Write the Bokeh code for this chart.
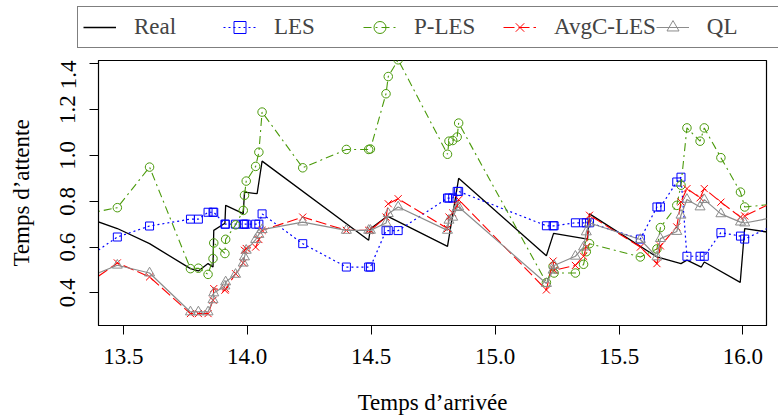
from bokeh.plotting import figure
from bokeh.layouts import column, row
from bokeh.models import Range1d, FixedTicker, Legend, LegendItem, PrintfTickFormatter
from bokeh.embed import file_html
from bokeh.resources import INLINE

# ---------------- data ----------------
arrival = [13.35, 13.476, 13.606, 13.771, 13.803, 13.842, 13.862, 13.865, 13.910, 13.913,
           13.953, 13.984, 13.989, 13.996, 14.034, 14.047, 14.060, 14.224, 14.400, 14.490,
           14.497, 14.560, 14.569, 14.609, 14.808, 14.814, 14.829, 14.847, 14.853, 15.207,
           15.234, 15.238, 15.324, 15.357, 15.368, 15.381, 15.586, 15.653, 15.667, 15.733,
           15.750, 15.774, 15.827, 15.844, 15.911, 15.990, 16.007, 16.15]

les = [0.55, 0.644, 0.692, 0.722, 0.722, 0.752, 0.752, 0.752, 0.700, 0.700,
       0.700, 0.700, 0.700, 0.700, 0.700, 0.700, 0.745, 0.615, 0.513, 0.513,
       0.513, 0.672, 0.672, 0.672, 0.814, 0.814, 0.814, 0.843, 0.843, 0.693,
       0.693, 0.693, 0.706, 0.706, 0.706, 0.706, 0.635, 0.775, 0.775, 0.884,
       0.905, 0.560, 0.560, 0.560, 0.663, 0.648, 0.635, 0.708]

ples = [0.745, 0.772, 0.949, 0.506, 0.508, 0.481, 0.550, 0.618, 0.572, 0.634,
        0.697, 0.760, 0.826, 0.888, 0.952, 1.014, 1.189, 0.946, 1.026, 1.026,
        1.028, 1.269, 1.344, 1.417, 1.005, 1.062, 1.065, 1.080, 1.141, 0.445,
        0.516, 0.487, 0.487, 0.525, 0.580, 0.615, 0.557, 0.592, 0.685, 0.782,
        0.870, 1.120, 1.062, 1.120, 0.990, 0.840, 0.775, 0.790]

avgc = [0.435, 0.531, 0.470, 0.310, 0.310, 0.310, 0.368, 0.419, 0.412, 0.418,
        0.484, 0.531, 0.586, 0.594, 0.600, 0.633, 0.673, 0.731, 0.673, 0.673,
        0.673, 0.731, 0.789, 0.811, 0.681, 0.731, 0.749, 0.780, 0.807, 0.413,
        0.539, 0.499, 0.520, 0.560, 0.600, 0.739, 0.600, 0.528, 0.605, 0.688,
        0.797, 0.855, 0.815, 0.855, 0.796, 0.731, 0.736, 0.810]

ql = [0.465, 0.521, 0.487, 0.317, 0.317, 0.317, 0.370, 0.400, 0.430, 0.448,
      0.481, 0.530, 0.557, 0.586, 0.633, 0.655, 0.676, 0.709, 0.673, 0.673,
      0.673, 0.705, 0.746, 0.775, 0.673, 0.717, 0.730, 0.772, 0.775, 0.441,
      0.499, 0.520, 0.560, 0.600, 0.666, 0.705, 0.633, 0.557, 0.637, 0.668,
      0.739, 0.808, 0.775, 0.807, 0.745, 0.709, 0.705, 0.735]

real_t = [13.35, 13.476, 13.606, 13.771, 13.803, 13.842, 13.862, 13.865, 13.910, 13.913,
          13.984, 13.989, 14.040, 14.060, 14.490, 14.497, 14.565, 14.808, 14.853, 15.207,
          15.236, 15.373, 15.381, 15.653, 15.750, 15.774, 15.832, 15.844, 15.989, 16.007, 16.15]
real_v = [0.729, 0.681, 0.615, 0.506, 0.496, 0.528, 0.513, 0.673, 0.704, 0.782,
          0.746, 0.840, 0.833, 0.975, 0.630, 0.680, 0.735, 0.603, 0.900, 0.562,
          0.660, 0.635, 0.745, 0.557, 0.528, 0.543, 0.513, 0.535, 0.446, 0.681, 0.657]

x_ticks = [13.5, 14.0, 14.5, 15.0, 15.5, 16.0]
y_ticks = [0.4, 0.6, 0.8, 1.0, 1.2, 1.4]
labels = ["Real", "LES", "P-LES", "AvgC-LES", "QL"]

FONT = "Liberation Serif"
FS = "23px"

BLUE = "#0000ff"
GREEN = "#4a9a0a"
RED = "#ff0000"
GRAY = "#8c8c8c"

STYLES = [
    dict(color="black", width=1.3, dash="solid", marker=None, size=0),
    dict(color=BLUE, width=1.2, dash="2 3", marker="square", size=8),
    dict(color=GREEN, width=1.1, dash="8 4 2 4", marker="circle", size=8.5),
    dict(color=RED, width=1.1, dash="11 4", marker="x", size=10),
    dict(color=GRAY, width=1.2, dash="solid", marker="triangle", size=10),
]


def draw(fig, xs, ys, st):
    rs = [fig.line(xs, ys, line_color=st["color"], line_width=st["width"],
                   line_dash=st["dash"])]
    if st["marker"]:
        rs.append(fig.scatter(xs, ys, marker=st["marker"], size=st["size"],
                              fill_color=None, line_color=st["color"], line_width=1))
    return rs


# ---------------- main plot ----------------
p = figure(width=778, height=358, output_backend="svg", toolbar_location=None,
           x_range=Range1d(13.4, 16.095), y_range=Range1d(0.258, 1.414),
           min_border_left=98, min_border_right=12, min_border_top=0, min_border_bottom=93)
p.background_fill_color = "white"
p.border_fill_color = "white"
p.outline_line_color = "black"
p.outline_line_width = 1.2
p.xgrid.visible = False
p.ygrid.visible = False

for ax in (p.xaxis[0], p.yaxis[0]):
    ax.major_label_text_font = FONT
    ax.major_label_text_font_size = FS
    ax.axis_label_text_font = FONT
    ax.axis_label_text_font_size = FS
    ax.axis_label_text_font_style = "normal"
    ax.minor_tick_line_color = None
    ax.major_tick_in = 0
    ax.major_tick_out = 9
    ax.major_tick_line_width = 1
    ax.axis_line_width = 1
    ax.major_label_text_color = "black"
    ax.axis_label_text_color = "black"
    ax.formatter = PrintfTickFormatter(format="%.1f")

p.xaxis[0].ticker = FixedTicker(ticks=x_ticks)
p.yaxis[0].ticker = FixedTicker(ticks=y_ticks)
p.xaxis[0].axis_label = "Temps d\u2019arrivée"
p.yaxis[0].axis_label = "Temps d\u2019attente"
p.xaxis[0].major_label_standoff = 14
p.xaxis[0].axis_label_standoff = 23
p.yaxis[0].major_label_orientation = "vertical"
p.yaxis[0].major_label_standoff = 14
p.yaxis[0].axis_label_standoff = 24

draw(p, real_t, real_v, STYLES[0])
draw(p, arrival, les, STYLES[1])
draw(p, arrival, ples, STYLES[2])
draw(p, arrival, avgc, STYLES[3])
draw(p, arrival, ql, STYLES[4])

# ---------------- legend strip ----------------
lg = figure(width=778, height=60, output_backend="svg", toolbar_location=None,
            x_range=Range1d(0, 1), y_range=Range1d(0, 1),
            x_axis_location=None, y_axis_location=None,
            min_border_left=0, min_border_right=0, min_border_top=0, min_border_bottom=0)
lg.outline_line_color = None
lg.xgrid.visible = False
lg.ygrid.visible = False
lg.background_fill_color = "white"
lg.border_fill_color = "white"

items = []
for lab, st in zip(labels, STYLES):
    # legend-only renderers (single point placed outside the visible range)
    items.append(LegendItem(label=lab, renderers=draw(lg, [-5], [-5], st)))

legend = Legend(items=items, orientation="horizontal", location=(77, 12),
                label_text_font=FONT, label_text_font_size=FS,
                glyph_width=33, glyph_height=30, label_height=30, label_width=89,
                label_standoff=18, spacing=0, padding=5, margin=0,
                border_line_color="black", border_line_width=1.2,
                background_fill_color="white", background_fill_alpha=1.0)
lg.add_layout(legend, "center")

layout = column(row(lg, spacing=0), p, spacing=0)
open("out.html", "w").write(file_html(layout, INLINE))
